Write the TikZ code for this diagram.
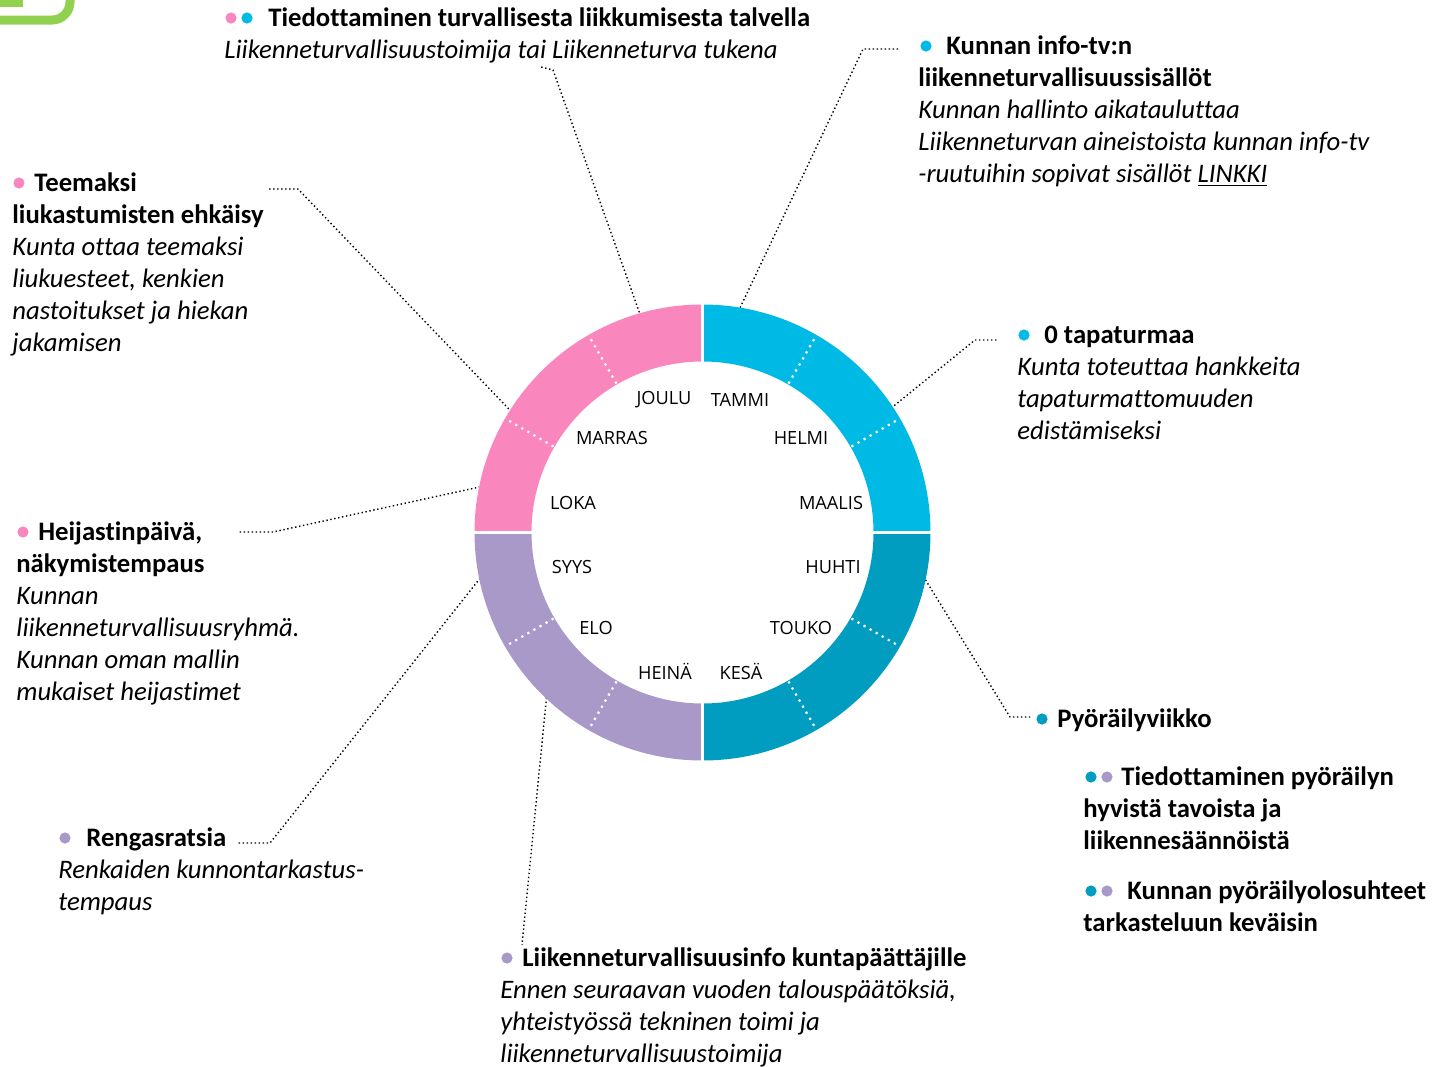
\documentclass[tikz,border=0pt]{standalone}
\usepackage{fontspec}
\setmainfont[Ligatures=NoCommon]{Carlito}
\newfontfamily\monthfont{Open Sans}
\usetikzlibrary{positioning}
\definecolor{q1cyan}{HTML}{00BAE6}
\definecolor{q2teal}{HTML}{009DC0}
\definecolor{q3lilac}{HTML}{A899C9}
\definecolor{q4pink}{HTML}{FA86BE}
\definecolor{logogreen}{HTML}{92D050}
\tikzset{
  note/.style={anchor=north west,align=left,inner sep=0pt,
    font=\fontsize{13.35}{16}\selectfont},
  month/.style={font=\monthfont\fontsize{9.1}{10}\selectfont,inner sep=0pt},
  dot/.style={circle,inner sep=0pt,minimum size=5.6pt},
  leader/.style={draw=black,line width=0.7pt,dash pattern=on 0.7pt off 1.3pt},
  gap/.style={draw=white,line width=1.5pt},
  monthsep/.style={draw=white,line width=1.1pt,dash pattern=on 1.1pt off 2.4pt}
}
\newcommand{\firstline}{\rule{0pt}{12pt}}

\begin{document}
\begin{tikzpicture}[x=0.5pt,y=0.5pt]
  \useasboundingbox (0,0) rectangle (1432,-1067);
  \coordinate (ctr) at (702.5,-532.5);

  % corner of the logo, cut by the page
  \draw[logogreen,line width=4.5pt,rounded corners=9pt] (-20,-20) -- (70,-20) -- (70,20);
  \fill[logogreen] (-10,10) rectangle (23,-7);

  % leaders (drawn first, the ring covers their ends)
  \path (ctr) ++(106:229) coordinate (r-winter);
  \path (ctr) ++(80.5:228) coordinate (r-infotv);
  \path (ctr) ++(33.5:230) coordinate (r-zero);
  \path (ctr) ++(147.7:226) coordinate (r-slip);
  \path (ctr) ++(168.4:227) coordinate (r-reflect);
  \path (ctr) ++(191.6:227) coordinate (r-tyre);
  \path (ctr) ++(226:224) coordinate (r-council);
  \path (ctr) ++(-12:228) coordinate (r-bike);

  \coordinate (k-winter) at (553,-70);   \coordinate (e-winter) at (541,-67);
  \coordinate (k-infotv) at (863,-49);   \coordinate (e-infotv) at (899,-49);
  \coordinate (k-zero) at (975,-340);    \coordinate (e-zero) at (998,-340);
  \coordinate (k-slip) at (298,-189);    \coordinate (e-slip) at (268,-189);
  \coordinate (k-reflect) at (273,-532); \coordinate (e-reflect) at (239,-532);
  \coordinate (k-tyre) at (270,-843);    \coordinate (e-tyre) at (238,-843);
  \coordinate (e-council) at (522,-945);
  \coordinate (k-bike) at (1010,-717);   \coordinate (e-bike) at (1030,-717);

  \draw[leader] (r-winter) -- (k-winter) -- (e-winter);
  \draw[leader] (r-infotv) -- (k-infotv) -- (e-infotv);
  \draw[leader] (r-zero) -- (k-zero) -- (e-zero);
  \draw[leader] (r-slip) -- (k-slip) -- (e-slip);
  \draw[leader] (r-reflect) -- (k-reflect) -- (e-reflect);
  \draw[leader] (r-tyre) -- (k-tyre) -- (e-tyre);
  \draw[leader] (r-council) -- (e-council);
  \draw[leader] (r-bike) -- (k-bike) -- (e-bike);

  % year ring
  \foreach \a/\col in {0/q1cyan,90/q4pink,180/q3lilac,270/q2teal}
    \fill[\col] (ctr) ++(\a:228) arc[start angle=\a,end angle=\a+90,radius=228]
      -- ++(\a+90:-57) arc[start angle=\a+90,end angle=\a,radius=171] -- cycle;
  \foreach \a in {0,90,180,270}
    \draw[gap] (ctr) ++(\a:165) -- ++(\a:70);
  \foreach \a in {30,60,120,150,210,240,300,330}
    \draw[monthsep] (ctr) ++(\a:172) -- ++(\a:55);

  \foreach \m/\x/\y [count=\i] in {TAMMI/740/400,HELMI/801/438,MAALIS/831/503,
      HUHTI/833/567,TOUKO/801/628,KESÄ/741/671,HEINÄ/665/671,ELO/596/628,
      SYYS/572/567,LOKA/573/503,MARRAS/612/438,JOULU/664/400}
    \node[month] (m\i) at (\x,-\y) {\m};

  % texts
  \node[note] (winter) at (224,-2) {\firstline\hspace*{22pt}\textbf{Tiedottaminen turvallisesta liikkumisesta talvella}\\
    \textit{Liikenneturvallisuustoimija tai Liikenneturva tukena}};
  \node[dot,fill=q4pink] (d-winter1) at (231,-18) {};
  \node[dot,fill=q1cyan] (d-winter2) at (247,-18) {};

  \node[note] (infotv) at (918,-30) {\firstline\hspace*{14pt}\textbf{Kunnan info-tv:n}\\
    \textbf{liikenneturvallisuussisällöt}\\
    \textit{Kunnan hallinto aikatauluttaa}\\
    \textit{Liikenneturvan aineistoista kunnan info-tv}\\
    \textit{-ruutuihin sopivat sisällöt \underline{LINKKI}}};
  \node[dot,fill=q1cyan] (d-infotv) at (926,-46) {};

  \node[note] (slip) at (12,-167) {\firstline\hspace*{11pt}\textbf{Teemaksi}\\
    \textbf{liukastumisten ehkäisy}\\
    \textit{Kunta ottaa teemaksi}\\
    \textit{liukuesteet, kenkien}\\
    \textit{nastoitukset ja hiekan}\\
    \textit{jakamisen}};
  \node[dot,fill=q4pink] (d-slip) at (19,-183) {};

  \node[note] (zero) at (1017,-319) {\firstline\hspace*{13.5pt}\textbf{0 tapaturmaa}\\
    \textit{Kunta toteuttaa hankkeita}\\
    \textit{tapaturmattomuuden}\\
    \textit{edistämiseksi}};
  \node[dot,fill=q1cyan] (d-zero) at (1024,-335) {};

  \node[note] (reflect) at (16,-516) {\firstline\hspace*{11pt}\textbf{Heijastinpäivä,}\\
    \textbf{näkymistempaus}\\
    \textit{Kunnan}\\
    \textit{liikenneturvallisuusryhmä.}\\
    \textit{Kunnan oman mallin}\\
    \textit{mukaiset heijastimet}};
  \node[dot,fill=q4pink] (d-reflect) at (23,-532) {};

  \node[note] (bike) at (1057,-703) {\firstline\textbf{Pyöräilyviikko}};
  \node[dot,fill=q2teal] (d-bike) at (1042,-719) {};

  \node[note] (bikeinfo) at (1083,-761) {\firstline\hspace*{19pt}\textbf{Tiedottaminen pyöräilyn}\\
    \textbf{hyvistä tavoista ja}\\
    \textbf{liikennesäännöistä}};
  \node[dot,fill=q2teal] (d-bikeinfo1) at (1091,-777) {};
  \node[dot,fill=q3lilac] (d-bikeinfo2) at (1107,-777) {};

  \node[note] (bikeroads) at (1083,-875) {\firstline\hspace*{22pt}\textbf{Kunnan pyöräilyolosuhteet}\\
    \textbf{tarkasteluun keväisin}};
  \node[dot,fill=q2teal] (d-bikeroads1) at (1091,-891) {};
  \node[dot,fill=q3lilac] (d-bikeroads2) at (1107,-891) {};

  \node[note] (tyre) at (58,-822) {\firstline\hspace*{14pt}\textbf{Rengasratsia}\\
    \textit{Renkaiden kunnontarkastus-}\\
    \textit{tempaus}};
  \node[dot,fill=q3lilac] (d-tyre) at (65,-838) {};

  \node[note] (council) at (500,-942) {\firstline\hspace*{11pt}\textbf{Liikenneturvallisuusinfo kuntapäättäjille}\\
    \textit{Ennen seuraavan vuoden talouspäätöksiä,}\\
    \textit{yhteistyössä tekninen toimi ja}\\
    \textit{liikenneturvallisuustoimija}};
  \node[dot,fill=q3lilac] (d-council) at (507,-958) {};
\end{tikzpicture}
\end{document}
